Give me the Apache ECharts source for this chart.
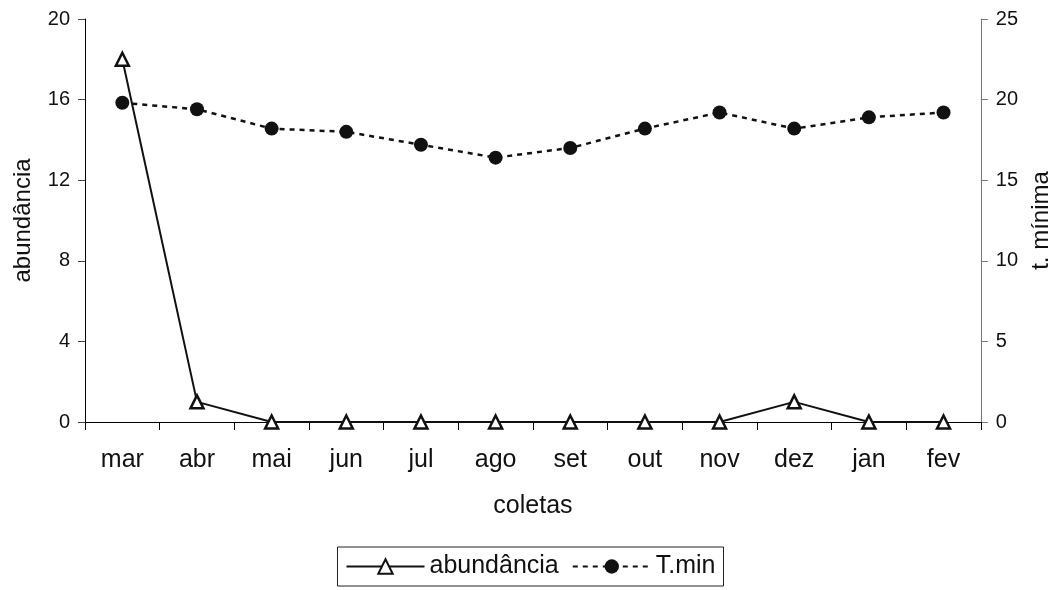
<!DOCTYPE html>
<html>
<head>
<meta charset="utf-8">
<script src="https://cdn.jsdelivr.net/npm/echarts@6/dist/echarts.min.js"></script>
<style>
  html, body { margin: 0; padding: 0; background: #fff; }
  #chart { width: 1061px; height: 590px; }
</style>
</head>
<body>
<div id="chart"></div>
<script>
const months = ['mar', 'abr', 'mai', 'jun', 'jul', 'ago', 'set', 'out', 'nov', 'dez', 'jan', 'fev'];
const abundancia = [18, 1, 0, 0, 0, 0, 0, 0, 0, 1, 0, 0];
const tMin = [19.8, 19.4, 18.2, 18.0, 17.2, 16.4, 17.0, 18.2, 19.2, 18.2, 18.9, 19.2];

const font = 'Liberation Sans, Arial, sans-serif';

const chart = echarts.init(document.getElementById('chart'));

const option = {
  animation: false,
  textStyle: { fontFamily: font, color: '#000' },
  grid: { left: 85, right: 78, top: 19, bottom: 168, containLabel: false },
  legend: {
    top: 547,
    left: 'center',
    borderColor: '#222',
    borderWidth: 1,
    padding: [7, 8],
    itemGap: 13,
    itemWidth: 78,
    itemHeight: 18,
    textStyle: { fontFamily: font, fontSize: 25, color: '#111' },
    data: ['abundância', 'T.min']
  },
  xAxis: {
    type: 'category',
    data: months,
    boundaryGap: true,
    name: 'coletas',
    nameLocation: 'middle',
    nameGap: 72,
    nameTextStyle: { fontSize: 25, color: '#111' },
    axisLine: { onZero: false, lineStyle: { color: '#000', width: 1 } },
    axisTick: { show: true, length: 8, inside: false, lineStyle: { color: '#000' } },
    axisLabel: { fontSize: 25, color: '#111', margin: 26 },
    splitLine: { show: false }
  },
  yAxis: [
    {
      type: 'value',
      min: 0,
      max: 20,
      interval: 4,
      name: 'abundância',
      nameLocation: 'middle',
      nameGap: 50,
      nameTextStyle: { fontSize: 24, color: '#111' },
      axisLine: { show: true, lineStyle: { color: '#000' } },
      axisTick: { show: true, length: 7, lineStyle: { color: '#444' } },
      axisLabel: { fontSize: 20, color: '#111', margin: 15 },
      splitLine: { show: false }
    },
    {
      type: 'value',
      min: 0,
      max: 25,
      interval: 5,
      position: 'right',
      name: 't. mínima',
      nameLocation: 'middle',
      nameGap: 45,
      nameTextStyle: { fontSize: 24, color: '#111' },
      axisLine: { show: true, lineStyle: { color: '#777' } },
      axisTick: { show: true, length: 7, lineStyle: { color: '#777' } },
      axisLabel: { fontSize: 20, color: '#111', margin: 15 },
      splitLine: { show: false }
    }
  ],
  series: [
    {
      name: 'abundância',
      type: 'line',
      yAxisIndex: 0,
      data: abundancia,
      symbol: 'triangle',
      symbolSize: 13,
      itemStyle: { color: '#fff', borderColor: '#111', borderWidth: 2.5 },
      lineStyle: { color: '#111', width: 2 },
      z: 3
    },
    {
      name: 'T.min',
      type: 'line',
      yAxisIndex: 1,
      data: tMin,
      symbol: 'circle',
      symbolSize: 14,
      itemStyle: { color: '#111', borderColor: '#111', borderWidth: 0 },
      lineStyle: { color: '#111', width: 2.5, type: [5, 5] },
      z: 2
    }
  ]
};

chart.setOption(option);
</script>
</body>
</html>
